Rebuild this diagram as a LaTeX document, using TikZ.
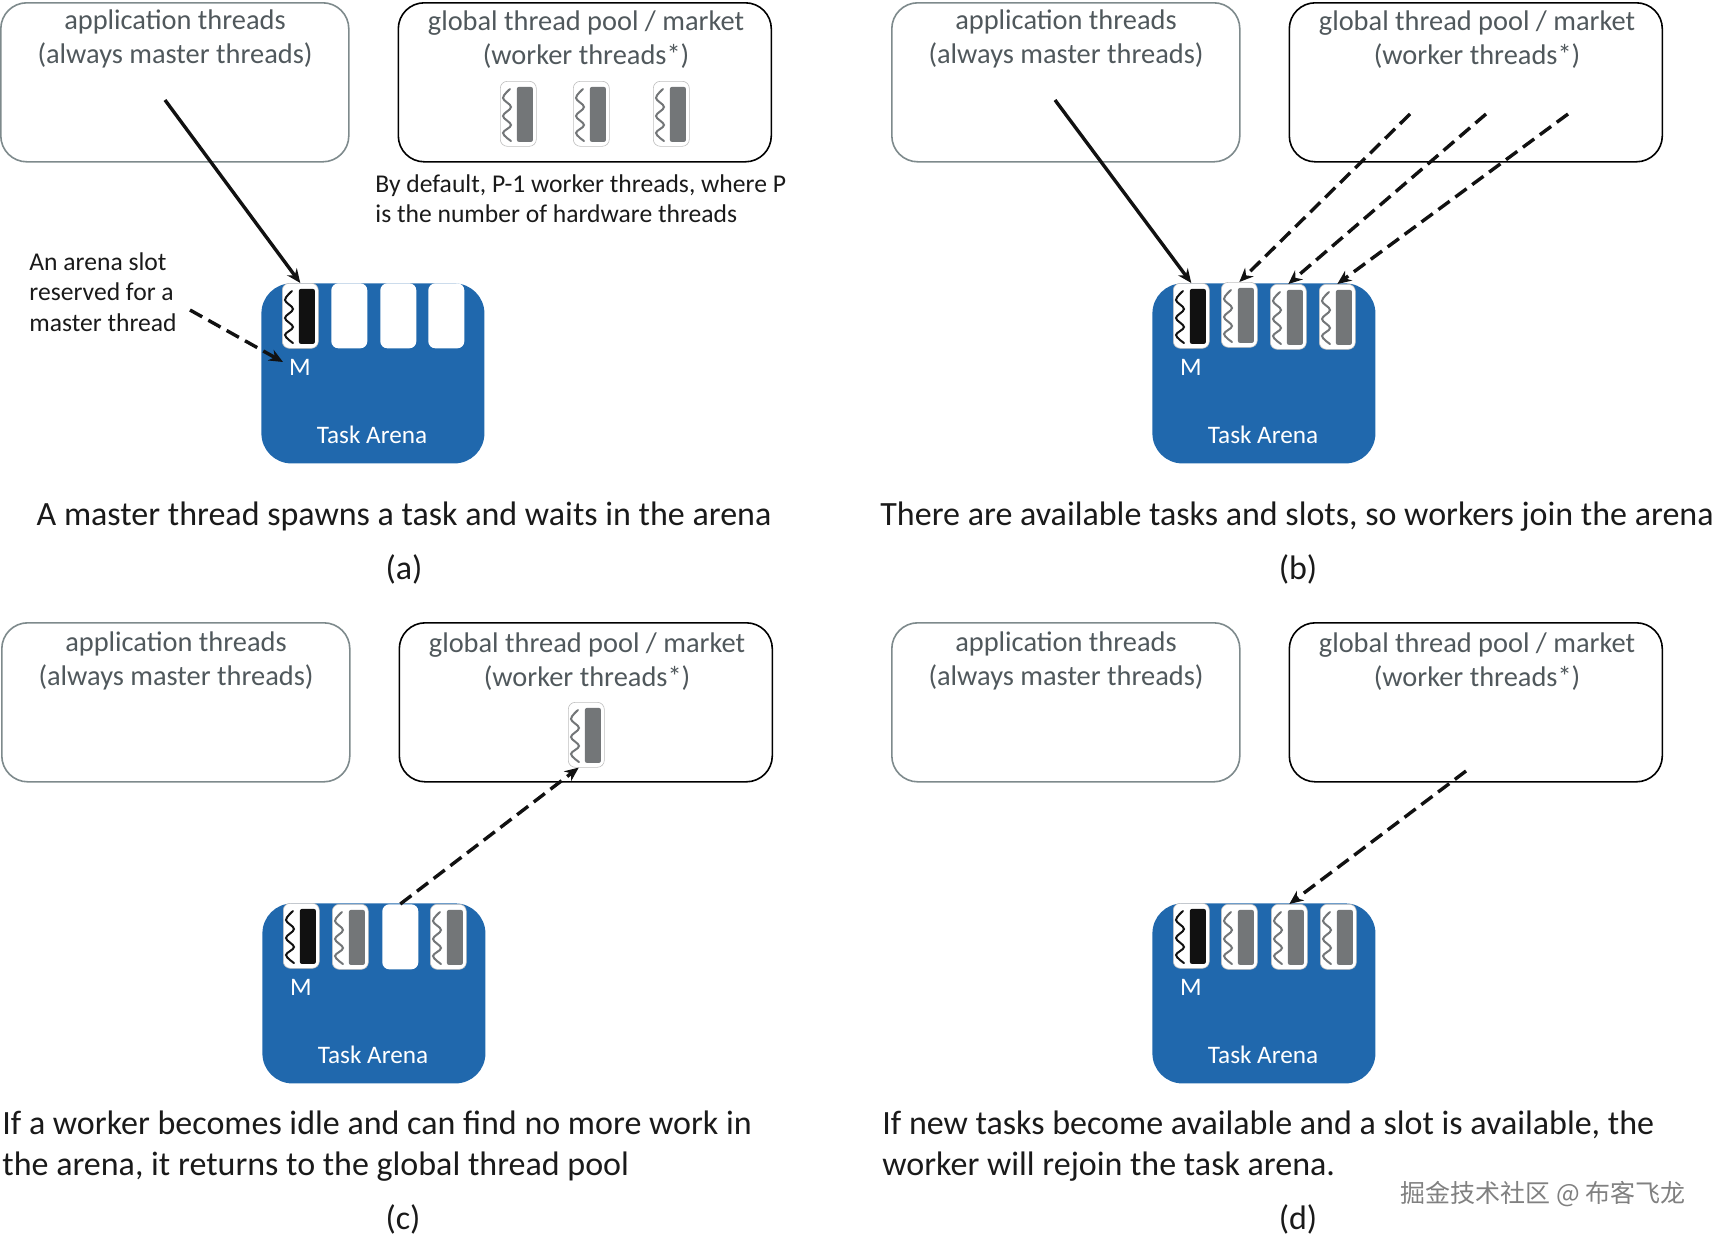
\documentclass[tikz,border=0pt]{standalone}
\usepackage{fontspec}
\setmainfont{Carlito}
\newfontfamily\cjkwm{Noto Sans CJK SC}
\usetikzlibrary{arrows.meta}
\definecolor{arenablue}{HTML}{2068AD}
\definecolor{boxgray}{HTML}{7E8A8C}
\definecolor{labelgray}{HTML}{50585C}
\definecolor{barblack}{HTML}{111111}
\definecolor{bargray}{HTML}{737678}
\definecolor{capblack}{HTML}{1A1A1A}
\tikzset{
  appbox/.style={draw=boxgray,line width=0.8pt,rounded corners=13pt,minimum width=174pt,minimum height=79.5pt,inner sep=0pt},
  poolbox/.style={draw=black,line width=0.8pt,rounded corners=13pt,minimum width=186.5pt,minimum height=79.5pt,inner sep=0pt},
  boxlabel/.style={text=labelgray,font=\fontsize{14.2}{17}\selectfont,align=center,inner sep=0pt,anchor=center},
  arena/.style={fill=arenablue,rounded corners=15pt,minimum width=111.5pt,minimum height=90pt,inner sep=0pt},
  slot/.style={fill=white,draw=black!25,line width=0.3pt,rounded corners=3.5pt,minimum width=18pt,minimum height=32.5pt,inner sep=0pt},
  bar/.style={rounded corners=1pt,minimum width=8pt,minimum height=27.5pt,inner sep=0pt},
  arenatext/.style={text=white,font=\fontsize{12.6}{14}\selectfont,inner sep=0pt},
  note/.style={text=capblack,font=\fontsize{12.8}{15.4}\selectfont,align=left,inner sep=0pt,anchor=north west},
  caption/.style={text=capblack,font=\fontsize{17}{20.5}\selectfont,align=left,inner sep=0pt},
  tag/.style={text=capblack,font=\fontsize{17}{20}\selectfont,inner sep=0pt},
  solidarrow/.style={draw=barblack,line width=1.7pt,-{Stealth[length=7pt,width=6pt]}},
  dasharrow/.style={draw=barblack,line width=1.7pt,dash pattern=on 7pt off 3.5pt,-{Stealth[length=7pt,width=6pt]}},
  wave/.style={line width=1pt,line cap=round},
}
% name, left, top, wave colour, bar colour
\newcommand{\workerat}[5]{%
  \node[slot,anchor=north west] (#1) at (#2,#3) {};
  \begin{scope}[shift={(#2,#3)}]
    \node[bar,fill=#5,anchor=north west] (#1-bar) at (16.5,5.5) {};
    \draw[wave,draw=#4] plot[smooth,tension=0.6] coordinates {(10,8)(3,17)(11,26)(3,35)(11,44)(3,52)(11,60)};
  \end{scope}}
\newcommand{\emptyslot}[3]{\node[slot,draw=none,anchor=north west] (#1) at (#2,#3) {};}
% prefix, dx, dy, label y
\newcommand{\mypanel}[4]{%
  \begin{scope}[shift={(#2,#3)}]
    \node[appbox,anchor=north west] (#1-app) at (0,2) {};
    \node[boxlabel] (#1-applabel) at (175,#4) {application threads\\(always master threads)};
    \node[poolbox,anchor=north west] (#1-pool) at (397.5,2) {};
    \node[boxlabel] (#1-poollabel) at (586,#4) {global thread pool / market\\(worker threads*)};
    \node[arena,anchor=north west] (#1-arena) at (261,283) {};
    \node[arenatext] (#1-m) at (300,367) {M};
    \node[arenatext] (#1-name) at (372,435) {Task Arena};
    \workerat{#1-s1}{282}{283}{barblack}{barblack}
  \end{scope}}
\begin{document}
\begin{tikzpicture}[x=0.5pt,y=-0.5pt]
\useasboundingbox (0,0) rectangle (1717,1238);

% ---------- (a)
\mypanel{a}{0}{0}{39.2}
\emptyslot{a-s2}{331}{283}
\emptyslot{a-s3}{380}{283}
\emptyslot{a-s4}{428}{283}
\workerat{a-w1}{500}{81}{bargray}{bargray}
\workerat{a-w2}{573}{81}{bargray}{bargray}
\workerat{a-w3}{653}{81}{bargray}{bargray}
\node[note] (a-note) at (375,174) {By default, P-1 worker threads, where P\\is the number of hardware threads};
\node[note] (a-slotnote) at (29,252) {An arena slot\\reserved for a\\master thread};
\coordinate (a-st) at (165,100);
\coordinate (a-ds) at (190,310);
\coordinate (a-de) at (283,362);
\draw[solidarrow] (a-st) -- (a-s1.north);
\draw[dasharrow] (a-ds) -- (a-de);
\node[caption] (a-cap) at (404,516) {A master thread spawns a task and waits in the arena};
\node[tag] (a-tag) at (404,569) {(a)};

% ---------- (b)
\mypanel{b}{891}{0}{39.2}
\workerat{b-w1}{1221}{282}{bargray}{bargray}
\workerat{b-w2}{1270}{284}{bargray}{bargray}
\workerat{b-w3}{1319}{284}{bargray}{bargray}
\coordinate (b-st) at (1055,100);
\coordinate (b-d1) at (1410,114);
\coordinate (b-d2) at (1486,114);
\coordinate (b-d3) at (1568,114);
\draw[solidarrow] (b-st) -- (b-s1.north);
\draw[dasharrow] (b-d1) -- (b-w1.north);
\draw[dasharrow] (b-d2) -- (b-w2.north);
\draw[dasharrow] (b-d3) -- (b-w3.north);
\node[caption] (b-cap) at (1297,517) {There are available tasks and slots, so workers join the arena};
\node[tag] (b-tag) at (1298,569) {(b)};

% ---------- (c)
\mypanel{c}{1}{620}{41.4}
\workerat{c-w1}{332}{904}{bargray}{bargray}
\emptyslot{c-s3}{382}{904}
\workerat{c-w2}{430}{904}{bargray}{bargray}
\workerat{c-w3}{568}{702}{bargray}{bargray}
\draw[dasharrow] (c-s3.north) -- (c-w3.257);
\node[caption,anchor=north west] (c-cap) at (2,1110) {If a worker becomes idle and can find no more work in\\the arena, it returns to the global thread pool};
\node[tag] (c-tag) at (403,1219) {(c)};

% ---------- (d)
\mypanel{d}{891}{620}{41.4}
\workerat{d-w1}{1221}{904}{bargray}{bargray}
\workerat{d-w2}{1271}{904}{bargray}{bargray}
\workerat{d-w3}{1320}{904}{bargray}{bargray}
\coordinate (d-ds) at (1466,771);
\draw[dasharrow] (d-ds) -- (d-w2.north);
\node[caption,anchor=north west] (d-cap) at (882,1110) {If new tasks become available and a slot is available, the\\worker will rejoin the task arena.};
\node[tag] (d-tag) at (1298,1219) {(d)};

% watermark
\node[text=black!50,font=\cjkwm\fontsize{12.5}{15}\selectfont,inner sep=0pt] (wm) at (1543,1194) {掘金技术社区 @ 布客飞龙};
\end{tikzpicture}
\end{document}
